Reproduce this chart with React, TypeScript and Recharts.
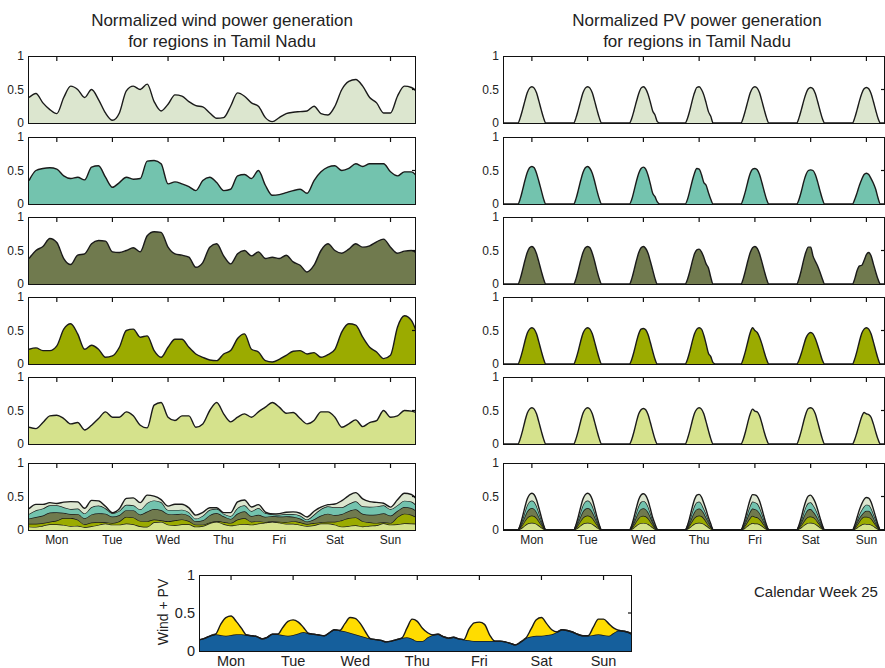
import React from "react";
import { AreaChart, Area, XAxis, YAxis } from "recharts";

const DAYS = ["Mon", "Tue", "Wed", "Thu", "Fri", "Sat", "Sun"];
const DAY_TICKS = [12, 36, 60, 84, 108, 132, 156];
const Y_TICKS = [0, 0.5, 1];

const REGION_COLORS = ["#dce6cf", "#73c3ae", "#707a4e", "#9bab00", "#d5e28c"];
const WIND_COLOR = "#155f9c";
const PV_COLOR = "#ffdc00";

// wind per region, 3-hourly from Mon 00:00 (one row per day + end point)
const wind1 = [
  0.38, 0.44, 0.30, 0.20, 0.14, 0.38, 0.55, 0.50,
  0.38, 0.50, 0.35, 0.15, 0.04, 0.15, 0.48, 0.55,
  0.50, 0.58, 0.32, 0.18, 0.28, 0.42, 0.40, 0.32,
  0.26, 0.24, 0.15, 0.07, 0.08, 0.25, 0.45, 0.40,
  0.30, 0.25, 0.08, 0.02, 0.08, 0.14, 0.16, 0.17,
  0.18, 0.25, 0.14, 0.12, 0.25, 0.50, 0.62, 0.65,
  0.55, 0.38, 0.30, 0.15, 0.15, 0.40, 0.55, 0.53,
  0.45,
];
const wind2 = [
  0.35, 0.50, 0.53, 0.54, 0.52, 0.42, 0.38, 0.40,
  0.36, 0.55, 0.57, 0.40, 0.25, 0.32, 0.40, 0.37,
  0.38, 0.64, 0.65, 0.60, 0.30, 0.33, 0.30, 0.26,
  0.20, 0.35, 0.40, 0.32, 0.20, 0.22, 0.42, 0.44,
  0.38, 0.50, 0.28, 0.13, 0.14, 0.17, 0.20, 0.22,
  0.16, 0.35, 0.48, 0.55, 0.57, 0.50, 0.53, 0.60,
  0.56, 0.60, 0.60, 0.60, 0.48, 0.42, 0.48, 0.48,
  0.38,
];
const wind3 = [
  0.38, 0.50, 0.56, 0.68, 0.62, 0.38, 0.29, 0.43,
  0.45, 0.60, 0.65, 0.64, 0.48, 0.47, 0.50, 0.54,
  0.48, 0.72, 0.78, 0.77, 0.55, 0.45, 0.43, 0.40,
  0.25, 0.32, 0.55, 0.60, 0.42, 0.30, 0.45, 0.50,
  0.42, 0.48, 0.38, 0.40, 0.38, 0.43, 0.33, 0.28,
  0.18, 0.28, 0.50, 0.60, 0.50, 0.46, 0.52, 0.60,
  0.55, 0.57, 0.63, 0.67, 0.55, 0.46, 0.49, 0.50,
  0.44,
];
const wind4 = [
  0.22, 0.24, 0.20, 0.20, 0.27, 0.52, 0.60, 0.45,
  0.22, 0.28, 0.22, 0.10, 0.12, 0.25, 0.50, 0.52,
  0.40, 0.42, 0.20, 0.10, 0.25, 0.37, 0.37, 0.25,
  0.15, 0.10, 0.06, 0.05, 0.15, 0.20, 0.38, 0.45,
  0.22, 0.18, 0.05, 0.03, 0.07, 0.13, 0.19, 0.20,
  0.15, 0.17, 0.10, 0.14, 0.22, 0.48, 0.60, 0.58,
  0.40, 0.25, 0.18, 0.08, 0.13, 0.55, 0.72, 0.65,
  0.40,
];
const wind5 = [
  0.25, 0.23, 0.32, 0.42, 0.43, 0.38, 0.30, 0.32,
  0.21, 0.28, 0.38, 0.48, 0.40, 0.40, 0.48, 0.42,
  0.28, 0.24, 0.58, 0.62, 0.40, 0.35, 0.42, 0.42,
  0.25, 0.30, 0.50, 0.62, 0.45, 0.33, 0.40, 0.45,
  0.40, 0.48, 0.55, 0.62, 0.55, 0.46, 0.47, 0.38,
  0.30, 0.35, 0.48, 0.48, 0.40, 0.25, 0.30, 0.36,
  0.26, 0.32, 0.35, 0.50, 0.40, 0.42, 0.50, 0.49,
  0.46,
];

// PV per region, hourly 06:00..18:00 for each day Mon..Sun
const pv1 = [
  [0, 0.08, 0.20, 0.33, 0.45, 0.52, 0.54, 0.52, 0.45, 0.33, 0.20, 0.08, 0],
  [0, 0.08, 0.20, 0.33, 0.45, 0.52, 0.54, 0.52, 0.45, 0.33, 0.20, 0.08, 0],
  [0, 0.07, 0.19, 0.32, 0.44, 0.52, 0.54, 0.51, 0.43, 0.31, 0.18, 0.12, 0.02],
  [0, 0.07, 0.19, 0.33, 0.45, 0.53, 0.54, 0.50, 0.42, 0.30, 0.17, 0.10, 0],
  [0, 0.08, 0.20, 0.33, 0.45, 0.52, 0.54, 0.52, 0.45, 0.33, 0.20, 0.08, 0],
  [0, 0.08, 0.20, 0.33, 0.44, 0.51, 0.53, 0.51, 0.44, 0.32, 0.19, 0.07, 0],
  [0, 0.08, 0.20, 0.33, 0.44, 0.51, 0.53, 0.51, 0.44, 0.32, 0.19, 0.07, 0],
];
const pv2 = [
  [0, 0.08, 0.21, 0.35, 0.47, 0.54, 0.56, 0.54, 0.46, 0.34, 0.21, 0.08, 0],
  [0, 0.08, 0.21, 0.35, 0.47, 0.54, 0.56, 0.53, 0.46, 0.34, 0.20, 0.08, 0],
  [0, 0.07, 0.20, 0.34, 0.46, 0.53, 0.55, 0.52, 0.43, 0.30, 0.16, 0.11, 0.03],
  [0, 0.07, 0.20, 0.34, 0.46, 0.53, 0.52, 0.44, 0.32, 0.28, 0.17, 0.07, 0],
  [0, 0.08, 0.20, 0.34, 0.46, 0.52, 0.53, 0.51, 0.44, 0.32, 0.19, 0.07, 0],
  [0, 0.07, 0.19, 0.33, 0.44, 0.50, 0.51, 0.50, 0.44, 0.33, 0.20, 0.08, 0],
  [0, 0.07, 0.17, 0.28, 0.37, 0.44, 0.46, 0.44, 0.38, 0.31, 0.22, 0.09, 0],
];
const pv3 = [
  [0, 0.08, 0.21, 0.35, 0.47, 0.54, 0.56, 0.53, 0.45, 0.33, 0.20, 0.08, 0],
  [0, 0.08, 0.21, 0.35, 0.47, 0.54, 0.56, 0.54, 0.46, 0.34, 0.20, 0.08, 0],
  [0, 0.08, 0.21, 0.35, 0.47, 0.54, 0.56, 0.53, 0.46, 0.34, 0.21, 0.08, 0],
  [0, 0.07, 0.19, 0.33, 0.45, 0.51, 0.52, 0.48, 0.40, 0.30, 0.24, 0.10, 0],
  [0, 0.08, 0.21, 0.35, 0.47, 0.54, 0.56, 0.53, 0.45, 0.33, 0.20, 0.08, 0],
  [0, 0.08, 0.21, 0.36, 0.48, 0.55, 0.55, 0.42, 0.34, 0.27, 0.18, 0.08, 0],
  [0, 0.08, 0.20, 0.27, 0.28, 0.35, 0.44, 0.47, 0.42, 0.30, 0.18, 0.07, 0],
];
const pv4 = [
  [0, 0.08, 0.20, 0.34, 0.46, 0.52, 0.54, 0.52, 0.45, 0.33, 0.20, 0.08, 0],
  [0, 0.08, 0.20, 0.34, 0.46, 0.52, 0.54, 0.52, 0.45, 0.33, 0.20, 0.08, 0],
  [0, 0.07, 0.19, 0.33, 0.45, 0.52, 0.53, 0.51, 0.44, 0.32, 0.19, 0.07, 0],
  [0, 0.07, 0.19, 0.33, 0.45, 0.52, 0.54, 0.52, 0.43, 0.30, 0.16, 0.11, 0.02],
  [0, 0.08, 0.20, 0.34, 0.47, 0.54, 0.50, 0.47, 0.40, 0.30, 0.18, 0.07, 0],
  [0, 0.06, 0.16, 0.28, 0.39, 0.45, 0.47, 0.45, 0.38, 0.28, 0.17, 0.06, 0],
  [0, 0.08, 0.20, 0.34, 0.46, 0.52, 0.54, 0.52, 0.45, 0.33, 0.20, 0.08, 0],
];
const pv5 = [
  [0, 0.08, 0.20, 0.34, 0.46, 0.52, 0.54, 0.52, 0.45, 0.33, 0.20, 0.08, 0],
  [0, 0.08, 0.20, 0.34, 0.46, 0.52, 0.54, 0.52, 0.45, 0.33, 0.20, 0.08, 0],
  [0, 0.07, 0.19, 0.33, 0.45, 0.51, 0.53, 0.51, 0.44, 0.32, 0.19, 0.07, 0],
  [0, 0.08, 0.20, 0.34, 0.46, 0.52, 0.54, 0.52, 0.45, 0.33, 0.20, 0.08, 0],
  [0, 0.07, 0.19, 0.33, 0.45, 0.52, 0.49, 0.48, 0.42, 0.31, 0.18, 0.07, 0],
  [0, 0.08, 0.20, 0.34, 0.46, 0.53, 0.54, 0.52, 0.45, 0.33, 0.20, 0.08, 0],
  [0, 0.07, 0.18, 0.30, 0.41, 0.47, 0.45, 0.44, 0.40, 0.30, 0.18, 0.07, 0],
];

// Wind + PV total, 2-hourly wind (one row per day + end point)
const totalWind = [
  0.15, 0.17, 0.20, 0.22, 0.21, 0.20, 0.21, 0.22, 0.22, 0.21, 0.20, 0.19,
  0.16, 0.18, 0.22, 0.22, 0.21, 0.20, 0.21, 0.23, 0.25, 0.23, 0.22, 0.21,
  0.20, 0.24, 0.28, 0.27, 0.26, 0.24, 0.22, 0.20, 0.18, 0.16, 0.15, 0.14,
  0.12, 0.13, 0.15, 0.17, 0.18, 0.16, 0.13, 0.13, 0.18, 0.21, 0.22, 0.19,
  0.17, 0.18, 0.16, 0.15, 0.14, 0.13, 0.13, 0.13, 0.13, 0.13, 0.13, 0.12,
  0.10, 0.08, 0.12, 0.17, 0.19, 0.20, 0.20, 0.21, 0.22, 0.25, 0.28, 0.27,
  0.25, 0.22, 0.20, 0.20, 0.21, 0.22, 0.21, 0.20, 0.24, 0.27, 0.26, 0.24,
  0.20,
];
// PV share of the total, 2-hourly 06:00..18:00 per day
const totalPv = [
  [0, 0.14, 0.24, 0.25, 0.17, 0.08, 0],
  [0, 0.10, 0.19, 0.20, 0.15, 0.06, 0],
  [0, 0.10, 0.20, 0.21, 0.16, 0.07, 0],
  [0, 0.12, 0.26, 0.26, 0.17, 0.06, 0],
  [0, 0.15, 0.24, 0.25, 0.22, 0.08, 0],
  [0, 0.10, 0.21, 0.24, 0.15, 0.06, 0],
  [0, 0.10, 0.20, 0.21, 0.16, 0.06, 0],
];

const winds = [wind1, wind2, wind3, wind4, wind5];
const pvs = [pv1, pv2, pv3, pv4, pv5];
const KEYS = ["r1", "r2", "r3", "r4", "r5"];

const windData = wind1.map((_, i) => {
  const row: any = { h: i * 3 };
  winds.forEach((w, k) => {
    row[KEYS[k]] = w[i];
    row[KEYS[k] + "s"] = w[i] / 5;
  });
  return row;
});

const pvData = Array.from({ length: 168 }, (_, h) => {
  const d = Math.floor(h / 24);
  const hr = h % 24;
  const row: any = { h };
  pvs.forEach((p, k) => {
    const v = hr >= 6 && hr <= 18 ? p[d][hr - 6] : 0;
    row[KEYS[k]] = v;
    row[KEYS[k] + "s"] = v / 5;
  });
  return row;
});

const totalData = totalWind.map((w, i) => {
  const h = i * 2;
  const d = Math.floor(h / 24);
  const hr = h % 24;
  const pv = d < 7 && hr >= 6 && hr <= 18 ? totalPv[d][(hr - 6) / 2] : 0;
  return { h, wind: w, pv };
});

const FONT = "'Liberation Sans', Arial, Helvetica, sans-serif";
const ROW_TOPS = [57, 138, 218, 298, 378, 464];
const PLOT_H = 66;

type Layer = { key: string; color: string };

function Panel({
  px, py, pw, ph, xMax = 167, data, layers, stacked, days, fontSize = 12,
}: {
  px: number; py: number; pw: number; ph: number; xMax?: number; data: any[]; layers: Layer[];
  stacked?: boolean; days?: boolean; fontSize?: number;
}) {
  const yW = 30;
  const m = { top: 9, right: 3, bottom: days ? 2 : 10, left: 0 };
  const xH = days ? fontSize + 11 : 0;
  // top and right helper axes each take 1px
  const width = m.left + yW + pw + 1 + m.right;
  const height = m.top + 1 + ph + xH + m.bottom;
  return (
    <div style={{ position: "absolute", left: px - yW - m.left, top: py - m.top - 1, width, height }}>
      <AreaChart width={width} height={height} data={data} margin={m}>
        <XAxis
          xAxisId="b"
          dataKey="h"
          type="number"
          domain={[0, xMax]}
          allowDataOverflow
          ticks={DAY_TICKS}
          interval={0}
          tickFormatter={(v: number) => DAYS[DAY_TICKS.indexOf(v)] ?? ""}
          tick={days ? { fill: "#222", fontSize } : false}
          tickLine={false}
          tickSize={4}
          tickMargin={1}
          axisLine={false}
          height={xH}
        />
        <XAxis
          xAxisId="t"
          orientation="top"
          dataKey="h"
          type="number"
          domain={[0, xMax]}
          allowDataOverflow
          ticks={DAY_TICKS}
          interval={0}
          mirror
          tickSize={5}
          tick={{ fontSize: 1, fill: "none" }}
          tickLine={{ stroke: "#111", strokeWidth: 1.2 }}
          axisLine={false}
          height={1}
        />
        <YAxis
          yAxisId="l"
          type="number"
          domain={[0, 1]}
          ticks={Y_TICKS}
          interval={0}
          width={yW}
          tickLine={false}
          tickSize={4}
          tickMargin={1}
          tick={{ fill: "#222", fontSize }}
          tickFormatter={(v: number) => String(v)}
          axisLine={false}
        />
        <YAxis
          yAxisId="r"
          orientation="right"
          type="number"
          domain={[0, 1]}
          ticks={[0.5]}
          mirror
          width={1}
          tickSize={4}
          tick={{ fontSize: 1, fill: "none" }}
          tickLine={{ stroke: "#111", strokeWidth: 1.2 }}
          axisLine={false}
        />
        {layers.map((l) => (
          <Area
            key={l.key}
            xAxisId="b"
            yAxisId="l"
            dataKey={l.key}
            stackId={stacked ? "s" : undefined}
            type="monotone"
            fill={l.color}
            fillOpacity={1}
            stroke="#1a1a1a"
            strokeWidth={1.4}
            dot={false}
            activeDot={false}
            isAnimationActive={false}
          />
        ))}
        <Area
          xAxisId="t"
          yAxisId="r"
          dataKey={layers[0].key}
          fill="none"
          stroke="none"
          dot={false}
          activeDot={false}
          isAnimationActive={false}
        />
      </AreaChart>
      <div
        style={{
          position: "absolute", left: m.left + yW - 0.7, top: m.top + 1 - 0.7,
          width: pw + 1.4, height: ph + 1.4, boxSizing: "border-box",
          border: "1.4px solid #111", pointerEvents: "none",
        }}
      />
    </div>
  );
}

const titleStyle: React.CSSProperties = {
  position: "absolute",
  width: 420,
  textAlign: "center",
  fontSize: 17,
  lineHeight: "20.5px",
  top: 11,
  color: "#222",
};

export default function App() {
  const stackLayers = [4, 3, 2, 1, 0].map((k) => ({ key: KEYS[k] + "s", color: REGION_COLORS[k] }));
  return (
    <div
      style={{
        position: "absolute", left: 0, top: 0, width: 885, height: 668,
        overflow: "hidden", background: "#fff", fontFamily: FONT,
      }}
    >
      <div style={{ ...titleStyle, left: 222 - 210 }}>
        Normalized wind power generation<br />for regions in Tamil Nadu
      </div>
      <div style={{ ...titleStyle, left: 697 - 210 }}>
        Normalized PV power generation<br />for regions in Tamil Nadu
      </div>

      {KEYS.map((key, k) => (
        <Panel key={"w" + key} px={29} py={ROW_TOPS[k]} pw={386} ph={PLOT_H}
          data={windData} layers={[{ key, color: REGION_COLORS[k] }]} />
      ))}
      <Panel px={29} py={ROW_TOPS[5]} pw={386} ph={PLOT_H} data={windData}
        layers={stackLayers} stacked days />

      {KEYS.map((key, k) => (
        <Panel key={"p" + key} px={504} py={ROW_TOPS[k]} pw={380} xMax={164} ph={PLOT_H}
          data={pvData} layers={[{ key, color: REGION_COLORS[k] }]} />
      ))}
      <Panel px={504} py={ROW_TOPS[5]} pw={380} xMax={164} ph={PLOT_H} data={pvData}
        layers={stackLayers} stacked days />

      <Panel px={200} py={576} pw={431} ph={75} data={totalData} fontSize={14.5}
        layers={[{ key: "wind", color: WIND_COLOR }, { key: "pv", color: PV_COLOR }]}
        stacked days />

      <div
        style={{
          position: "absolute", left: 163 - 50, top: 612 - 9, width: 100, height: 18,
          textAlign: "center", fontSize: 14, lineHeight: "18px", color: "#222",
          transform: "rotate(-90deg)",
        }}
      >
        Wind + PV
      </div>
      <div style={{ position: "absolute", left: 754, top: 583, fontSize: 15, color: "#222", whiteSpace: "nowrap" }}>
        Calendar Week 25
      </div>
    </div>
  );
}
